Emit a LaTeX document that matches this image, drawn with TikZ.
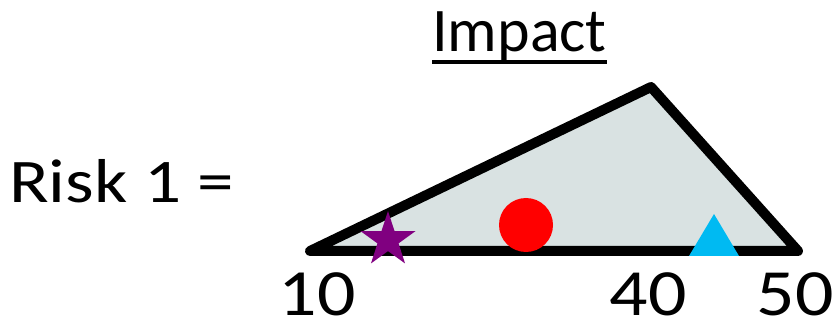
\documentclass[tikz,border=0pt]{standalone}
\usepackage{fontspec}
\setmainfont{Carlito}
\usetikzlibrary{shapes.geometric,calc}
\definecolor{trifill}{RGB}{217,226,226}
\definecolor{starpurple}{RGB}{128,0,128}
\definecolor{lightblue}{RGB}{0,186,242}
\begin{document}
\begin{tikzpicture}[x=1pt,y=-1pt,
  lbl/.style={inner sep=0pt,anchor=base,text depth=0pt,font=\fontsize{62}{70}\selectfont},
  num/.style={lbl,font=\fontsize{66}{70}\selectfont}]
\useasboundingbox (0,0) rectangle (833,323);
\coordinate (L) at (310,251);
\coordinate (T) at (651,87);
\coordinate (R) at (798,251);
\draw[line width=10pt,line join=round,fill=trifill] (L) -- (T) -- (R) -- cycle;
\node[star,star points=5,star point ratio=2.618,fill=starpurple,minimum size=58pt,inner sep=0pt] (st) at (388,240) {};
\node[circle,fill=red,minimum size=54pt,inner sep=0pt] (ci) at (526,225) {};
\coordinate (ta) at (689,256);
\coordinate (tb) at (714,214);
\coordinate (tc) at (739,256);
\fill[lightblue] (ta) -- (tb) -- (tc) -- cycle;
\node[lbl] (imp) at (519.5,52) {Impact};
\draw[line width=4pt] ($(imp.base west)+(0,10)$) -- ($(imp.base east)+(0,10)$);
\node[lbl,anchor=base west] (risk) at (9,203) {\scalebox{1.18}[1]{Risk 1 =}};
\node[num] (n10) at (317,315) {\scalebox{1.15}[1]{10}};
\node[num] (n40) at (648,315) {\scalebox{1.15}[1]{40}};
\node[num] (n50) at (795,315) {\scalebox{1.15}[1]{50}};
\end{tikzpicture}
\end{document}
